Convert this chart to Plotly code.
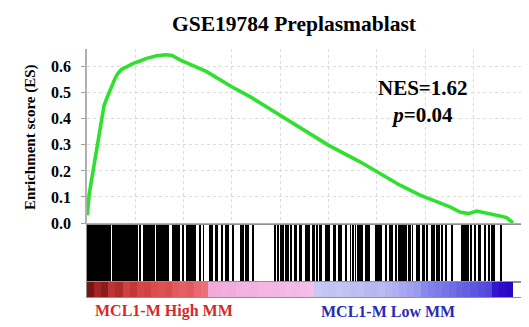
import numpy as np
import plotly.graph_objects as go

# ---------------- data ----------------
N_GENES = 17040          # length of ranked list
X_MAX = 17640            # axis extent (a little white space after the list)
GRID_STEP = 1932

es_rank = [0, 20, 92, 252, 452, 588, 680, 788, 920, 1000, 1120, 1240, 1388, 1600,
           1852, 2120, 2388, 2788, 3160, 3400, 3720, 4788, 5788, 6520, 7720, 8720,
           9652, 10920, 11720, 12120, 12520, 13320, 14120, 14520, 14920, 15252,
           15588, 15920, 16252, 16520, 16788, 17040]
es_value = [0.03, 0.04, 0.113, 0.203, 0.318, 0.408, 0.45, 0.478, 0.51, 0.53, 0.555,
            0.575, 0.59, 0.60, 0.613, 0.622, 0.632, 0.642, 0.646, 0.643, 0.626, 0.581,
            0.523, 0.485, 0.415, 0.355, 0.299, 0.235, 0.19, 0.167, 0.145, 0.107,
            0.077, 0.062, 0.042, 0.036, 0.046, 0.038, 0.03, 0.027, 0.021, 0.0]

hit_start = [12, 1012, 2092, 2240, 2772, 3412, 3828, 3948, 4468, 4640, 4892, 5108,
             5372, 5532, 5800, 6132, 6332, 6628, 7480, 7600, 7732, 7932, 8120, 8268,
             8468, 8720, 8812, 8988, 9188, 9292, 9520, 9852, 10052, 10320, 10520,
             10620, 10720, 10800, 10892, 11120, 11520, 11920, 12092, 12320, 12452,
             12852, 13000, 13172, 13400, 13572, 13748, 13972, 14172, 14332, 14572,
             14972, 15308, 15508, 15640, 15880, 16040, 16172, 16508]
hit_end = [948, 2040, 2172, 2708, 3280, 3720, 3880, 4360, 4572, 4680, 5028, 5240,
           5428, 5692, 5868, 6268, 6492, 6680, 7540, 7680, 7868, 8068, 8188, 8400,
           8600, 8788, 8920, 9120, 9252, 9388, 9720, 9960, 10188, 10388, 10560,
           10660, 10760, 10852, 11052, 11320, 11788, 12012, 12228, 12388, 12788,
           12948, 13040, 13308, 13508, 13640, 13908, 14108, 14240, 14412, 14640,
           15268, 15400, 15572, 15748, 15932, 16108, 16332, 16600]

rank_metric = [1.0, 0.93, 0.97, 0.86, 0.9, 0.8, 0.84, 0.75, 0.78, 0.7, 0.66, 0.7, 0.6,
               0.56, 0.6, 0.5, 0.45,
               0.3, 0.28, 0.25, 0.27, 0.22, 0.2, 0.23, 0.18, 0.15, 0.17, 0.12, 0.1,
               0.12, 0.07, 0.04,
               -0.05, -0.08, -0.1, -0.07, -0.12, -0.15, -0.13, -0.18, -0.2, -0.17,
               -0.22, -0.25, -0.3, -0.35, -0.4,
               -0.5, -0.55, -0.58, -0.62, -0.66, -0.7, -0.73, -0.76, -0.8, -0.83,
               -0.95, -0.98, -1.0]

y_ticks = [0.0, 0.1, 0.2, 0.3, 0.4, 0.5, 0.6]

title_text = "GSE19784 Preplasmablast"
y_title = "Enrichment score (ES)"
stats_text = "NES=1.62<br><i>p</i>=0.04"
high_label = "MCL1-M High MM"
low_label = "MCL1-M Low MM"

# ---------------- figure ----------------
SERIF = "Liberation Serif, Times New Roman, serif"
# page body has an 8px default margin; the figure is sized to fit the window
W, H = 521, 319
PL, PT, PR, PB = 79, 41, 520, 289   # plot area edges in figure pixels
PW, PH = PR - PL, PB - PT

def px(xp):
    return (xp - 8 - PL) / PW

def py(yp):
    return (PB - (yp - 8)) / PH

fig = go.Figure()

fig.add_trace(go.Scatter(x=es_rank, y=es_value, mode="lines",
                         line=dict(color="#2fe02f", width=3.6),
                         xaxis="x", yaxis="y", showlegend=False, hoverinfo="skip"))

hs = np.array(hit_start, float)
he = np.array(hit_end, float)
fig.add_trace(go.Bar(x=(hs + he) / 2, y=[1] * len(hs), width=np.maximum(he - hs, 30),
                     marker=dict(color="black", line=dict(width=0)),
                     xaxis="x2", yaxis="y2", showlegend=False, hoverinfo="skip"))

seg = N_GENES / len(rank_metric)
centers = seg / 2 + seg * np.arange(len(rank_metric))
colorscale = [
    [0.0, "#2a06c4"], [0.03, "#3418d2"], [0.08, "#5046dc"], [0.18, "#7272e6"],
    [0.3, "#9a9aee"], [0.42, "#bcbcf2"], [0.495, "#cdcdf5"],
    [0.505, "#f4c2ea"], [0.62, "#f2b0de"], [0.67, "#f0a4d4"],
    [0.69, "#ef7c86"], [0.8, "#e25a5c"], [0.9, "#cf4040"], [0.96, "#a82828"],
    [1.0, "#7a1414"],
]
fig.add_trace(go.Heatmap(x=centers, y=[0], z=[rank_metric], zmin=-1, zmax=1,
                         colorscale=colorscale, showscale=False,
                         xaxis="x3", yaxis="y3", hoverinfo="skip"))

grid = dict(showgrid=True, gridcolor="#dcdcdc", griddash="dot", gridwidth=1)

fig.update_layout(
    width=W, height=H,
    margin=dict(l=PL, r=W - PR, t=PT, b=H - PB, autoexpand=False),
    paper_bgcolor="white", plot_bgcolor="white",
    bargap=0,
    title=dict(text=title_text, x=(294 - 8) / W, xanchor="center",
               y=1 - (23 - 8) / H, yanchor="middle", yref="container",
               font=dict(family=SERIF, size=21.5, color="black", weight="bold")),
    xaxis=dict(domain=[0, 1], range=[0, X_MAX], anchor="y", tick0=0, dtick=GRID_STEP,
               showticklabels=False, ticks="", zeroline=False,
               showline=True, linecolor="#b0b0b0", linewidth=1, **grid),
    yaxis=dict(domain=[py(223), 1], range=[0, 0.668], anchor="x",
               tickvals=y_ticks, ticktext=[f"{v:.1f}" for v in y_ticks],
               ticks="outside", ticklen=4, tickcolor="#a0a0a0", automargin=False,
               tickfont=dict(family=SERIF, size=16, color="black", weight="bold"),
               ticklabelstandoff=7, zeroline=False,
               showline=True, linecolor="#b0b0b0", linewidth=1.5, **grid),
    xaxis2=dict(domain=[0, 1], range=[0, X_MAX], anchor="y2", matches="x",
                showticklabels=False, ticks="", showgrid=False, zeroline=False,
                showline=True, mirror=True, linecolor="#909090", linewidth=1),
    yaxis2=dict(domain=[py(282), py(225)], range=[0, 1], anchor="x2",
                showticklabels=False, ticks="", showgrid=False, zeroline=False,
                showline=True, mirror=True, linecolor="#909090", linewidth=1),
    xaxis3=dict(domain=[0, 1], range=[0, X_MAX], anchor="y3", matches="x",
                showticklabels=False, ticks="", showgrid=False, zeroline=False,
                showline=True, mirror=True, linecolor="#909090", linewidth=1),
    yaxis3=dict(domain=[0, py(282)], range=[-0.5, 0.5], anchor="x3",
                showticklabels=False, ticks="", showgrid=False, zeroline=False,
                showline=True, mirror=True, linecolor="#909090", linewidth=1),
)

fig.add_annotation(text=y_title, textangle=-90, xref="paper", yref="paper",
                   x=px(30), y=py(137), xanchor="center",
                   yanchor="middle", showarrow=False,
                   font=dict(family=SERIF, size=15, color="black", weight="bold"))
fig.add_annotation(text=stats_text, xref="paper", yref="paper",
                   x=px(423), y=py(101), xanchor="center",
                   yanchor="middle", showarrow=False, align="center",
                   font=dict(family=SERIF, size=21, color="black", weight="bold"))
fig.add_annotation(text=high_label, xref="paper", yref="paper",
                   x=px(164), y=py(311), xanchor="center",
                   yanchor="middle", showarrow=False,
                   font=dict(family=SERIF, size=16, color="#d42a2a", weight="bold"))
fig.add_annotation(text=low_label, xref="paper", yref="paper",
                   x=px(388), y=py(311), xanchor="center",
                   yanchor="middle", showarrow=False,
                   font=dict(family=SERIF, size=16, color="#2a2ab4", weight="bold"))

fig.write_html("out.html")
